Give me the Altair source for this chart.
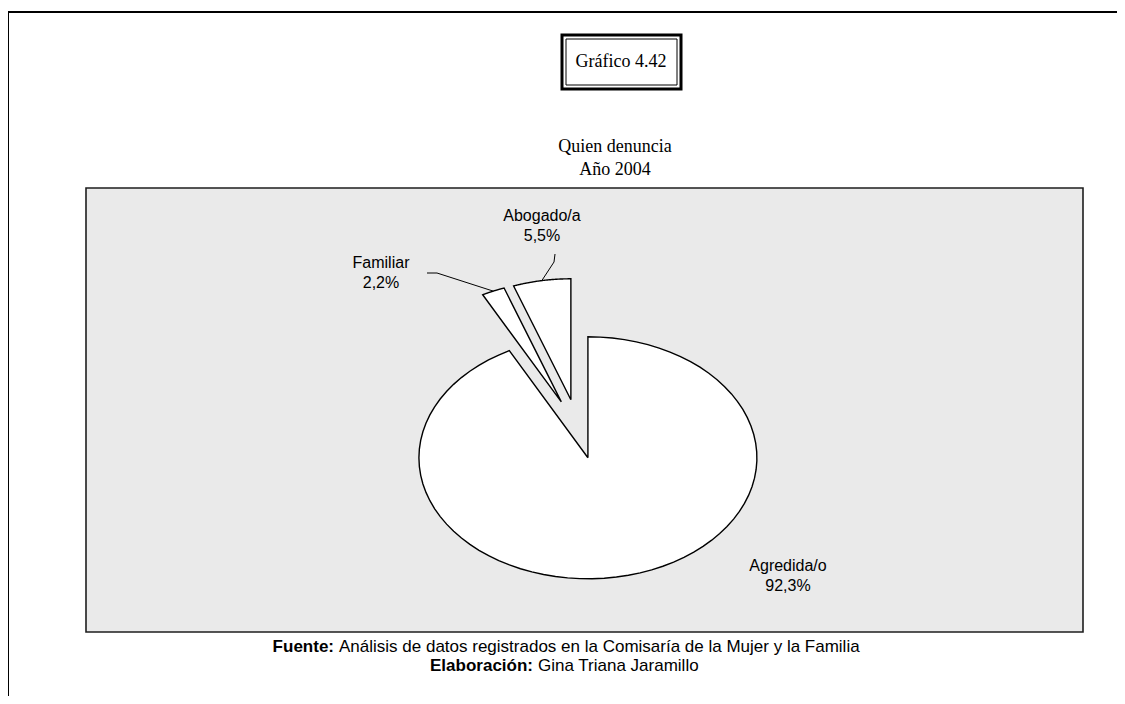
import altair as alt
import pandas as pd

# ---------------- data ----------------
categorias = ["Agredida/o", "Familiar", "Abogado/a"]
valores = [92.3, 2.2, 5.5]
porcentajes = ["92,3%", "2,2%", "5,5%"]

titulo = "Gráfico 4.42"
subtitulo_1 = "Quien denuncia"
subtitulo_2 = "Año 2004"
fuente_neg = "Fuente:"
fuente_txt = "Análisis de datos registrados en la Comisaría de la Mujer y la Familia"
elab_neg = "Elaboración:"
elab_txt = "Gina Triana Jaramillo"

# ---------------- layout (pixels in the drawing) ----------------
W, H = 1109, 688
CX, CY = 570, 421          # pie centre
RX, RY = 169, 121          # elliptical radii (flattened pie)
EXPLODE = 0.245            # explosion as share of the radius
N = 80                     # arc resolution
MID = N // 2 + 1

etiqueta_x = {"Agredida/o": 780, "Familiar": 373, "Abogado/a": 534}
etiqueta_y = {"Agredida/o": 558, "Familiar": 255, "Abogado/a": 208}
# elbow (ex, ey) and anchor (ax, ay) of leader lines
guia = {"Familiar": (429, 265, 419, 265), "Abogado/a": (546, 254, 547, 246)}

xs = alt.Scale(domain=[0, W], nice=False, zero=False)
ys = alt.Scale(domain=[0, H], nice=False, zero=False, reverse=True)

pie_df = pd.DataFrame({"categoria": categorias, "valor": valores,
                       "orden": list(range(len(categorias)))})

base = (
    alt.Chart(pie_df)
    .transform_joinaggregate(total="sum(valor)")
    .transform_window(acum="sum(valor)", sort=[alt.SortField("orden")], frame=[None, 0])
    .transform_calculate(
        a0="2*PI*(datum.acum-datum.valor)/datum.total",
        a1="2*PI*datum.acum/datum.total",
    )
    .transform_calculate(
        ox=f"{CX}+{EXPLODE * RX}*sin((datum.a0+datum.a1)/2)",
        oy=f"{CY}-{EXPLODE * RY}*cos((datum.a0+datum.a1)/2)",
        k=f"sequence(0,{N + 3})",
    )
    .transform_flatten(["k"])
    .transform_calculate(
        borde=f"datum.k>=1 && datum.k<={N + 1}",
        t=f"datum.a0+(datum.a1-datum.a0)*(datum.k-1)/{N}",
    )
    .transform_calculate(
        px=f"datum.ox+(datum.borde ? {RX}*sin(datum.t) : 0)",
        py=f"datum.oy-(datum.borde ? {RY}*cos(datum.t) : 0)",
    )
)

pie = base.mark_line(fill="white", stroke="black", strokeWidth=1.4,
                     strokeJoin="miter").encode(
    x=alt.X("px:Q", scale=xs, axis=None),
    y=alt.Y("py:Q", scale=ys, axis=None),
    detail="categoria:N",
    order="k:Q",
)

guia_df = pd.DataFrame({
    "categoria": list(guia.keys()),
    "ex": [g[0] for g in guia.values()],
    "ey": [g[1] for g in guia.values()],
    "ax": [g[2] for g in guia.values()],
    "ay": [g[3] for g in guia.values()],
})

guia1 = (
    base.transform_filter(f"datum.k=={MID}")
    .transform_lookup(lookup="categoria",
                      from_=alt.LookupData(guia_df, "categoria", ["ex", "ey"]))
    .transform_filter("isValid(datum.ex)")
    .mark_rule(color="black", strokeWidth=1)
    .encode(x=alt.X("px:Q", scale=xs, axis=None), y=alt.Y("py:Q", scale=ys, axis=None),
            x2="ex:Q", y2="ey:Q")
)
guia2 = alt.Chart(guia_df).mark_rule(color="black", strokeWidth=1).encode(
    x=alt.X("ex:Q", scale=xs, axis=None), y=alt.Y("ey:Q", scale=ys, axis=None),
    x2="ax:Q", y2="ay:Q")

lab_df = pd.DataFrame({
    "categoria": categorias,
    "pct": porcentajes,
    "lx": [etiqueta_x[c] for c in categorias],
    "ly": [etiqueta_y[c] for c in categorias],
})
lab_font = dict(font="Liberation Sans", fontSize=16, align="center", baseline="middle",
                color="black")
nombres = alt.Chart(lab_df).mark_text(**lab_font).encode(
    x=alt.X("lx:Q", scale=xs, axis=None), y=alt.Y("ly:Q", scale=ys, axis=None),
    text="categoria:N")
pcts = alt.Chart(lab_df).mark_text(dy=20, **lab_font).encode(
    x=alt.X("lx:Q", scale=xs, axis=None), y=alt.Y("ly:Q", scale=ys, axis=None),
    text="pct:N")

dummy = pd.DataFrame({"d": [0]})

def caja(x1, y1, x2, y2, sw, fill="white", fo=0.0, stroke="black"):
    return alt.Chart(dummy).mark_rect(fill=fill, fillOpacity=fo, stroke=stroke,
                                      strokeWidth=sw).encode(
        x=alt.value(x1), x2=alt.value(x2), y=alt.value(y1), y2=alt.value(y2))

def texto(s, x, y, font, size, weight="normal", align="center"):
    return alt.Chart(dummy).mark_text(text=s, font=font, fontSize=size, fontWeight=weight,
                                      align=align, baseline="middle", color="black").encode(
        x=alt.value(x), y=alt.value(y))

borde_ext = caja(0, 4, W + 40, H + 40, 2)
fondo = caja(78, 180, 1075, 624, 1.6, fill="#eaeaea", fo=1.0, stroke="#1e1e1e")
tit_ext = caja(554, 27, 673, 81, 3)
tit_int = caja(558, 31, 669, 77, 1)

serif = "Liberation Serif"
sans = "Liberation Sans"
textos = [
    texto(titulo, 613, 54, serif, 18),
    texto(subtitulo_1, 607, 139, serif, 18),
    texto(subtitulo_2, 607, 162, serif, 18),
    texto(fuente_neg, 326, 639, sans, 17, "bold", "right"),
    texto(fuente_txt, 331, 639, sans, 17, "normal", "left"),
    texto(elab_neg, 525, 658, sans, 17, "bold", "right"),
    texto(elab_txt, 530, 658, sans, 17, "normal", "left"),
]

chart = alt.layer(borde_ext, fondo, tit_ext, tit_int, pie, guia1, guia2, nombres, pcts,
                  *textos).properties(
    width=W, height=H, autosize=alt.AutoSizeParams(type="none"), padding=0
).configure_view(stroke=None)

chart.save("out.html", embed_options={"renderer": "svg", "actions": False})
